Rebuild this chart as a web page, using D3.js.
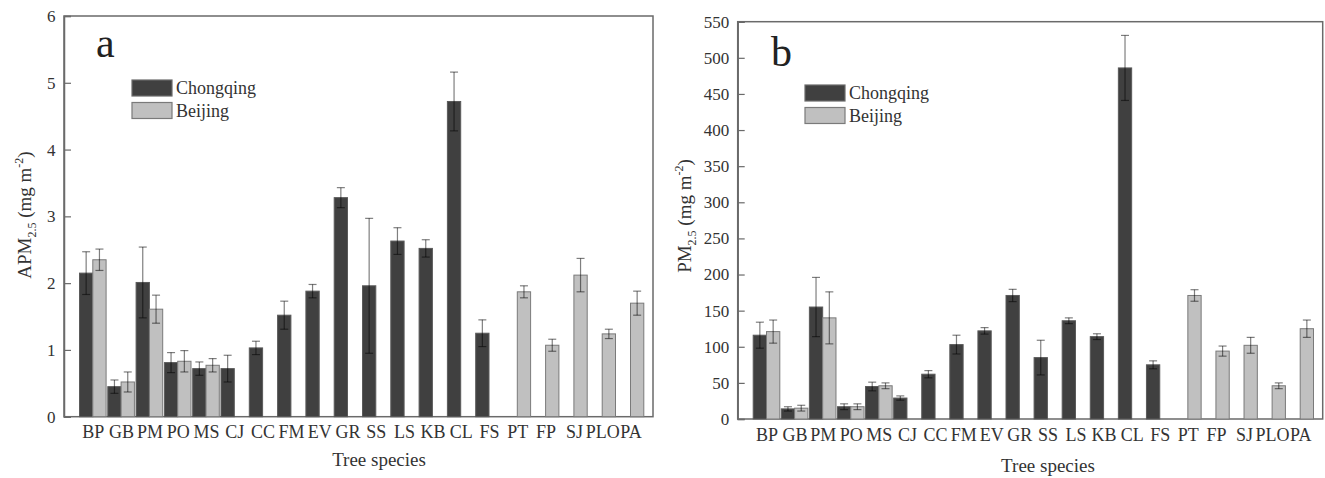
<!DOCTYPE html>
<html>
<head>
<meta charset="utf-8">
<script src="https://cdn.jsdelivr.net/npm/d3@7"></script>
<style>
  body { margin: 0; background: #fff; }
  svg, svg text { font-family: "Liberation Serif", "Times New Roman", Tinos, serif; }
</style>
</head>
<body>
<div id="chart"></div>
<script>
var width = 1325;
var height = 478;
var serif = "'Liberation Serif', 'Times New Roman', Tinos, serif";

var species = ["BP", "GB", "PM", "PO", "MS", "CJ", "CC", "FM", "EV", "GR",
               "SS", "LS", "KB", "CL", "FS", "PT", "FP", "SJ", "PLO", "PA"];

// panel a: APM2.5 (mg m-2)
var apmChongqing    = [2.15, 0.45, 2.01, 0.81, 0.72, 0.72, 1.03, 1.52, 1.88, 3.28,
                       1.96, 2.63, 2.52, 4.72, 1.25, null, null, null, null, null];
var apmChongqingErr = [0.32, 0.10, 0.53, 0.15, 0.10, 0.20, 0.10, 0.21, 0.10, 0.15,
                       1.01, 0.20, 0.13, 0.44, 0.20, null, null, null, null, null];
var apmBeijing      = [2.35, 0.52, 1.61, 0.83, 0.77, null, null, null, null, null,
                       null, null, null, null, null, 1.87, 1.07, 2.12, 1.24, 1.70];
var apmBeijingErr   = [0.16, 0.15, 0.21, 0.16, 0.10, null, null, null, null, null,
                       null, null, null, null, null, 0.09, 0.09, 0.25, 0.07, 0.18];
var apmTicks = [0, 1, 2, 3, 4, 5, 6];

// panel b: PM2.5 (mg m-2)
var pmChongqing    = [116, 14, 155, 17, 45, 29, 62, 103, 122, 171,
                      85, 136, 114, 486, 75, null, null, null, null, null];
var pmChongqingErr = [18, 3, 41, 4, 6, 3, 5, 13, 4.5, 8.5,
                      24, 4, 4, 45, 5.5, null, null, null, null, null];
var pmBeijing      = [121, 15, 140, 17, 46, null, null, null, null, null,
                      null, null, null, null, null, 171, 94, 102, 46, 125];
var pmBeijingErr   = [16, 4, 36, 4, 4, null, null, null, null, null,
                      null, null, null, null, null, 8, 7, 11, 4, 12];
var pmTicks = [0, 50, 100, 150, 200, 250, 300, 350, 400, 450, 500, 550];

var legendNames = ["Chongqing", "Beijing"];
var darkFill = "#404040";
var lightFill = "#c0c0c0";

var svg = d3.select("#chart").append("svg")
    .attr("width", width)
    .attr("height", height)
    .attr("font-family", serif);

function drawPanel(p) {
    var w = p.right - p.left;
    var h = p.bottom - p.top;
    var g = svg.append("g").attr("transform", "translate(" + p.left + "," + p.top + ")");

    var x = d3.scalePoint().domain(species).range([28.8, w - 22.5]);
    var y = d3.scaleLinear().domain([0, p.max]).range([h, 0]);
    var bw = 13.3;

    // frame
    g.append("rect")
        .attr("width", w).attr("height", h)
        .attr("fill", "none").attr("stroke", "#6a6a6a").attr("stroke-width", 1.5);

    var series = [
        {vals: p.cq, errs: p.cqErr, fill: darkFill, stroke: "#5a5a5a", off: -bw},
        {vals: p.bj, errs: p.bjErr, fill: lightFill, stroke: "#7a7a7a", off: 0}
    ];

    series.forEach(function (s) {
        var pts = species.map(function (d, i) {
            return {k: d, v: s.vals[i], e: s.errs[i]};
        }).filter(function (d) { return d.v !== null; });

        g.selectAll(null).data(pts).enter().append("rect")
            .attr("x", function (d) { return x(d.k) + s.off; })
            .attr("y", function (d) { return y(d.v); })
            .attr("width", bw)
            .attr("height", function (d) { return h - y(d.v); })
            .attr("fill", s.fill)
            .attr("stroke", s.stroke)
            .attr("stroke-width", 1);

        var eb = g.selectAll(null).data(pts).enter().append("g")
            .attr("stroke", "#000").attr("stroke-opacity", 0.5).attr("stroke-width", 1.2);
        eb.append("line")
            .attr("x1", function (d) { return x(d.k) + s.off + bw / 2; })
            .attr("x2", function (d) { return x(d.k) + s.off + bw / 2; })
            .attr("y1", function (d) { return y(d.v - d.e); })
            .attr("y2", function (d) { return y(d.v + d.e); });
        [1, -1].forEach(function (sign) {
            eb.append("line")
                .attr("x1", function (d) { return x(d.k) + s.off + bw / 2 - 4; })
                .attr("x2", function (d) { return x(d.k) + s.off + bw / 2 + 4; })
                .attr("y1", function (d) { return y(d.v + sign * d.e); })
                .attr("y2", function (d) { return y(d.v + sign * d.e); });
        });
    });

    // y axis, ticks pointing inward
    var yAxis = d3.axisLeft(y).tickValues(p.ticks).tickFormat(d3.format("d"))
        .tickSize(-7).tickPadding(8.5);
    var ya = g.append("g").call(yAxis).attr("font-family", serif).attr("font-size", 17);
    ya.select(".domain").attr("stroke", "#6a6a6a").attr("stroke-width", 1.5);
    ya.selectAll(".tick line").attr("stroke", "#6a6a6a").attr("stroke-width", 1.2);
    ya.selectAll(".tick text").attr("fill", "#333");

    // x labels
    var xAxis = d3.axisBottom(x).tickSize(0).tickPadding(9);
    var xa = g.append("g").attr("transform", "translate(0," + h + ")").call(xAxis)
        .attr("font-family", serif).attr("font-size", 18);
    xa.select(".domain").remove();
    xa.selectAll(".tick text").attr("fill", "#333");

    // x title
    g.append("text")
        .attr("x", p.xTitleX - p.left).attr("y", p.xTitleY - p.top)
        .attr("text-anchor", "middle").attr("font-size", 19).attr("fill", "#333")
        .text("Tree species");

    // y title with sub/superscript
    var yt = svg.append("text")
        .attr("transform", "translate(" + p.yTitleX + "," + p.yTitleY + ") rotate(-90)")
        .attr("text-anchor", "middle").attr("font-size", 19).attr("fill", "#333");
    yt.append("tspan").text(p.yName);
    yt.append("tspan").attr("font-size", 12).attr("dy", 5).text("2.5");
    yt.append("tspan").attr("dy", -5).text("\u00a0(mg m");
    yt.append("tspan").attr("font-size", 12).attr("dy", -8).text("-2");
    yt.append("tspan").attr("dy", 8).text(")");

    // panel letter
    svg.append("text")
        .attr("x", p.letterX).attr("y", p.letterY)
        .attr("font-size", 42).attr("fill", "#222")
        .text(p.letter);

    // legend
    var fills = [darkFill, lightFill];
    var strokes = ["#6a6a6a", "#7a7a7a"];
    legendNames.forEach(function (name, i) {
        svg.append("rect")
            .attr("x", p.legX).attr("y", p.legY + i * 22.5)
            .attr("width", 40).attr("height", 16)
            .attr("fill", fills[i]).attr("stroke", strokes[i]).attr("stroke-width", 1.2);
        svg.append("text")
            .attr("x", p.legX + 44).attr("y", p.legY + i * 22.5 + 14)
            .attr("font-size", 18).attr("fill", "#333")
            .text(name);
    });
}

drawPanel({
    left: 64, right: 653, top: 16, bottom: 416.7, max: 6, ticks: apmTicks,
    cq: apmChongqing, cqErr: apmChongqingErr, bj: apmBeijing, bjErr: apmBeijingErr,
    yName: "APM", yTitleX: 31, yTitleY: 215,
    xTitleX: 379, xTitleY: 466,
    letter: "a", letterX: 96, letterY: 57,
    legX: 132, legY: 80
});

drawPanel({
    left: 737.7, right: 1322.7, top: 21.7, bottom: 419, max: 550, ticks: pmTicks,
    cq: pmChongqing, cqErr: pmChongqingErr, bj: pmBeijing, bjErr: pmBeijingErr,
    yName: "PM", yTitleX: 691, yTitleY: 216,
    xTitleX: 1048, xTitleY: 472,
    letter: "b", letterX: 771, letterY: 66,
    legX: 805, legY: 85
});
</script>
</body>
</html>
